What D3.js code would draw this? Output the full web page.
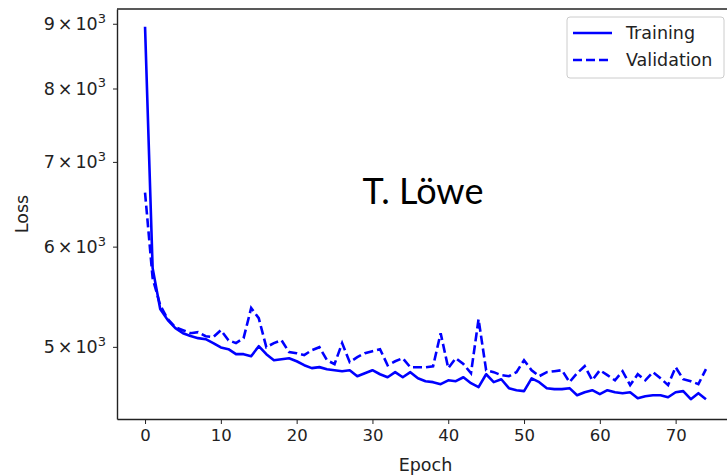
<!DOCTYPE html>
<html lang="en">
<head>
<meta charset="UTF-8">
<title>Loss</title>
<script src="https://d3js.org/d3.v7.min.js"></script>
<style>
  body { margin: 0; background: #fff; }
  .axis path, .axis line { stroke: #222; }
  .axis text { font-family: "DejaVu Sans", sans-serif; font-size: 16.5px; fill: #222; }
</style>
</head>
<body>
<svg id="chart"></svg>
<script>
// epochs 0..74
var epochs = d3.range(0, 75);

var training = [
  8950, 5770, 5357, 5249, 5173, 5126, 5099, 5080, 5070, 5034,
  4995, 4979, 4934, 4934, 4916, 5006, 4934, 4880, 4889, 4898,
  4871, 4836, 4810, 4819, 4801, 4792, 4783, 4792, 4740, 4766,
  4792, 4757, 4731, 4775, 4731, 4775, 4722, 4697, 4689, 4672,
  4705, 4697, 4731, 4680, 4647, 4757, 4689, 4714, 4638, 4621,
  4613, 4722, 4689, 4638, 4630, 4630, 4638, 4579, 4604, 4621,
  4588, 4621, 4604, 4596, 4604, 4554, 4571, 4579, 4579, 4562,
  4604, 4613, 4546, 4596, 4546
];

var validation = [
  6620, 5666, 5394, 5258, 5182, 5154, 5126, 5136, 5098, 5089,
  5154, 5061, 5034, 5080, 5366, 5268, 4997, 5034, 5061, 4952,
  4943, 4925, 4970, 4997, 4880, 4846, 5034, 4863, 4907, 4943,
  4961, 4979, 4836, 4871, 4898, 4818, 4818, 4818, 4827, 5126,
  4810, 4898, 4846, 4766, 5258, 4792, 4775, 4749, 4740, 4775,
  4880, 4792, 4740, 4775, 4783, 4792, 4689, 4766, 4827, 4705,
  4792, 4749, 4705, 4783, 4664, 4757, 4705, 4775, 4722, 4664,
  4818, 4714, 4697, 4672, 4801
];

var xTicks = [0, 10, 20, 30, 40, 50, 60, 70];
var yTicks = [5000, 6000, 7000, 8000, 9000];

var w = 727, h = 475;
var margin = { top: 9, right: -7, bottom: 56, left: 117 };

var svg = d3.select("#chart").attr("width", w).attr("height", h);

var x = d3.scaleLinear().domain([-3.7, 77.7]).range([margin.left, w - margin.right]);
var y = d3.scaleLog().domain([4385, 9245]).range([h - margin.bottom, margin.top]);

svg.append("defs").append("clipPath").attr("id", "clip")
  .append("rect")
  .attr("x", margin.left).attr("y", margin.top)
  .attr("width", w - margin.right - margin.left)
  .attr("height", h - margin.bottom - margin.top);

// axes
var xAxis = d3.axisBottom(x).tickValues(xTicks).tickSize(5).tickSizeOuter(0).tickPadding(5);
svg.append("g")
  .attr("class", "axis")
  .attr("transform", "translate(0," + (h - margin.bottom) + ")")
  .call(xAxis)
  .call(g => g.select(".domain").attr("stroke-width", 1.4));

var yAxis = d3.axisLeft(y).tickValues(yTicks).tickSize(4).tickSizeOuter(0).tickPadding(7).tickFormat(() => "");
var yg = svg.append("g")
  .attr("class", "axis")
  .attr("transform", "translate(" + margin.left + ",0)")
  .call(yAxis)
  .call(g => g.select(".domain").attr("stroke-width", 1.4));

yg.selectAll(".tick text").each(function(d) {
  var t = d3.select(this).style("font-size", "17.5px");
  t.text(null);
  t.append("tspan").text((d / 1000) + "\u2006\u00d7\u200610");
  t.append("tspan").attr("dy", "-0.55em").attr("font-size", "13px").text("3");
});

// top spine
svg.append("line")
  .attr("x1", margin.left).attr("x2", w)
  .attr("y1", margin.top).attr("y2", margin.top)
  .attr("stroke", "#222").attr("stroke-width", 1.4);

// axis labels
svg.append("text")
  .attr("x", x(37)).attr("y", 471)
  .attr("text-anchor", "middle")
  .style("font-family", "DejaVu Sans, sans-serif").style("font-size", "17.5px").style("fill", "#222")
  .text("Epoch");

svg.append("text")
  .attr("transform", "translate(28," + y(Math.sqrt(4385 * 9245)) + ") rotate(-90)")
  .attr("text-anchor", "middle")
  .style("font-family", "DejaVu Sans, sans-serif").style("font-size", "17.5px").style("fill", "#222")
  .text("Loss");

// lines
var line = d3.line().x((d, i) => x(epochs[i])).y(d => y(d));
var plot = svg.append("g").attr("clip-path", "url(#clip)");

plot.append("path")
  .datum(training)
  .attr("fill", "none").attr("stroke", "#0000ff").attr("stroke-width", 2.6)
  .attr("stroke-linejoin", "round")
  .attr("d", line);

plot.append("path")
  .datum(validation)
  .attr("fill", "none").attr("stroke", "#0000ff").attr("stroke-width", 2.6)
  .attr("stroke-dasharray", "9,4")
  .attr("d", line);

// watermark
svg.append("text")
  .attr("x", 423).attr("y", 204)
  .attr("text-anchor", "middle")
  .style("font-family", "Lato, sans-serif").style("font-size", "36px").style("fill", "#000")
  .text("T. Löwe");

// legend
var legend = svg.append("g").attr("transform", "translate(567,17)");
legend.append("rect")
  .attr("width", 157).attr("height", 61).attr("rx", 3)
  .attr("fill", "#fff").attr("stroke", "#ccc");
var items = [{ name: "Training", dash: null }, { name: "Validation", dash: "9,4" }];
items.forEach((it, i) => {
  var yy = 16 + i * 27;
  legend.append("line")
    .attr("x1", 6).attr("x2", 45).attr("y1", yy).attr("y2", yy)
    .attr("stroke", "#0000ff").attr("stroke-width", 2.6)
    .attr("stroke-dasharray", it.dash);
  legend.append("text")
    .attr("x", 59).attr("y", yy + 6)
    .style("font-family", "DejaVu Sans, sans-serif").style("font-size", "17.5px").style("fill", "#222")
    .text(it.name);
});
</script>
</body>
</html>
